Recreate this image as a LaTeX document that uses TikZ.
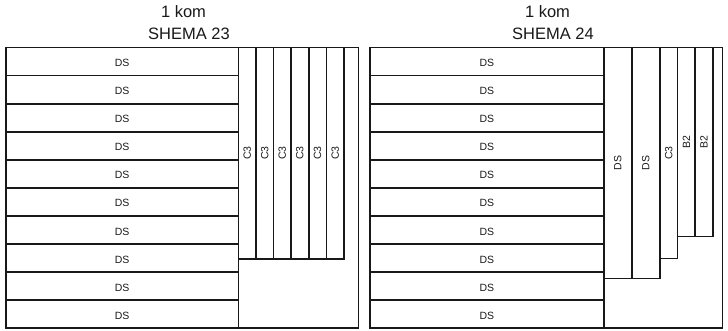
\documentclass[tikz,border=0pt]{standalone}
\usepackage{fontspec}
\setmainfont{Liberation Sans}
\begin{document}
\begin{tikzpicture}[x=1pt,y=-1pt,
  box/.style={draw=black!90,line width=1.7pt,inner sep=0pt,anchor=north west},
  lbl/.style={font=\fontsize{10.5}{11}\selectfont,inner sep=0pt,text=black!90},
  vlbl/.style={lbl,rotate=90},
  ttl/.style={font=\fontsize{16.5}{18}\selectfont,inner sep=0pt,text=black!90}]
\useasboundingbox (0,0) rectangle (728,331);
% titles
\node[ttl] (t1a) at (183.5,11.5) {1 kom};
\node[ttl] (t1b) at (189,33.5) {SHEMA 23};
\node[ttl] (t2a) at (547.5,11.5) {1 kom};
\node[ttl] (t2b) at (553,33.5) {SHEMA 24};
% ---------- left panel ----------
\node[box,minimum width=352.5pt,minimum height=280.6pt] (fL) at (5,46.7) {};
\foreach \i in {0,...,9}{
  \node[box,minimum width=232.5pt,minimum height=28.06pt] (rL\i) at (5,{46.7+28.06*\i}) {};
  \node[lbl] (rLt\i) at ([yshift=-1.5pt]rL\i.center) {DS};
}
\foreach \x [count=\k] in {237.5,255,272.5,290,307.8,325.5}{
  \node[box,minimum width=17.7pt,minimum height=211.3pt] (cL\k) at (\x,46.7) {};
  \node[vlbl] (cLt\k) at (cL\k.center) {C3};
}
% ---------- right panel ----------
\node[box,minimum width=352.5pt,minimum height=280.6pt] (fR) at (369,46.7) {};
\foreach \i in {0,...,9}{
  \node[box,minimum width=234pt,minimum height=28.06pt] (rR\i) at (369,{46.7+28.06*\i}) {};
  \node[lbl] (rRt\i) at ([yshift=-1.5pt]rR\i.center) {DS};
}
\node[box,minimum width=28pt,minimum height=231pt] (cR1) at (603,46.7) {};
\node[box,minimum width=28pt,minimum height=231pt] (cR2) at (631,46.7) {};
\node[box,minimum width=17.7pt,minimum height=211pt] (cR3) at (659,46.7) {};
\node[box,minimum width=17.6pt,minimum height=189pt] (cR4) at (676.7,46.7) {};
\node[box,minimum width=17.7pt,minimum height=189pt] (cR5) at (694.3,46.7) {};
\node[vlbl] (cRt1) at (cR1.center) {DS};
\node[vlbl] (cRt2) at (cR2.center) {DS};
\node[vlbl] (cRt3) at (cR3.center) {C3};
\node[vlbl] (cRt4) at (cR4.center) {B2};
\node[vlbl] (cRt5) at (cR5.center) {B2};
\end{tikzpicture}
\end{document}
